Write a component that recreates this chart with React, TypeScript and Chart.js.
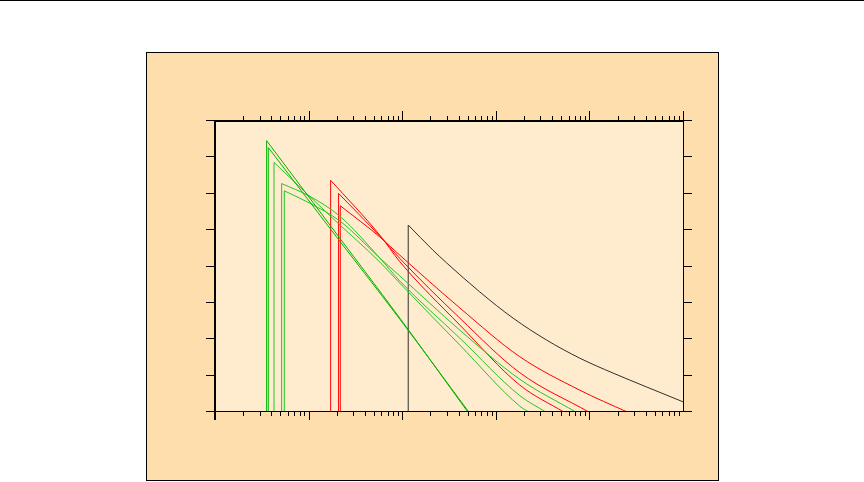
import React, { useEffect, useRef } from "react";
import { Chart, registerables } from "chart.js";

Chart.register(...registerables);

// ---- axis ranges & ticks ----
const X_MIN = 1;
const X_MAX = 100000;
const Y_MIN = 0;
const Y_MAX = 8;
const xMajorTicks = [1, 10, 100, 1000, 10000, 100000];
const xMinorMultipliers = [2, 3, 4, 5, 6, 7, 8, 9];
const yTicks = [0, 1, 2, 3, 4, 5, 6, 7, 8];

// ---- series (x on log axis, y linear); first point = foot of the vertical edge ----
const g1X = [3.56, 3.56, 16.9, 94.4, 502];
const g1Y = [0, 7.46, 5.14, 2.58, 0];

const g2X = [3.71, 3.71, 16.9, 94.4, 515];
const g2Y = [0, 7.27, 5.05, 2.55, 0];

const g3X = [4.27, 4.27, 19.1, 57.8, 94.4, 413, 1805, 2253];
const g3Y = [0, 6.86, 5.27, 4.12, 3.54, 1.84, 0.16, 0];

const g4X = [5.15, 5.15, 10.3, 21.6, 57.8, 94.4, 413, 1805, 3420];
const g4Y = [0, 6.28, 5.93, 5.38, 4.23, 3.6, 2.03, 0.45, 0];

const g5X = [5.5, 5.5, 10.3, 21.6, 57.8, 94.4, 413, 1805, 7150];
const g5Y = [0, 6.08, 5.74, 5.25, 4.23, 3.74, 2.25, 0.9, 0];

const r1X = [17.2, 17.2, 57.8, 94.4, 413, 1805, 5325];
const r1Y = [0, 6.37, 4.86, 4.13, 2.39, 0.74, 0];

const r2X = [20.9, 20.9, 57.8, 94.4, 413, 1805, 9840];
const r2Y = [0, 6.01, 4.83, 4.22, 2.58, 1.08, 0];

const r3X = [21.8, 21.8, 57.8, 94.4, 413, 1805, 7890, 25370];
const r3Y = [0, 5.67, 4.81, 4.31, 2.86, 1.52, 0.6, 0];

const kX = [116, 116, 213, 298, 675, 1531, 3480, 7890, 17900, 40650, 100000];
const kY = [0, 5.14, 4.45, 4.1, 3.3, 2.58, 1.98, 1.48, 1.07, 0.69, 0.28];

const seriesList = [
  { name: "g1", xs: g1X, ys: g1Y, color: "#00b400" },
  { name: "g2", xs: g2X, ys: g2Y, color: "#00b400" },
  { name: "g3", xs: g3X, ys: g3Y, color: "#22c822" },
  { name: "g4", xs: g4X, ys: g4Y, color: "#22c822" },
  { name: "g5", xs: g5X, ys: g5Y, color: "#22c822" },
  { name: "r1", xs: r1X, ys: r1Y, color: "#ff0000" },
  { name: "r2", xs: r2X, ys: r2Y, color: "#ff0000" },
  { name: "r3", xs: r3X, ys: r3Y, color: "#ff0000" },
  { name: "k", xs: kX, ys: kY, color: "#303030" },
];

const framePlugin = {
  id: "frame",
  beforeDraw(chart: any) {
    const ctx = chart.ctx;
    const { left, right, top, bottom } = chart.chartArea;
    ctx.save();
    ctx.fillStyle = "#ffffff";
    ctx.fillRect(0, 0, chart.width, chart.height);
    ctx.fillStyle = "#000000";
    ctx.fillRect(0, 0, chart.width, 1);
    // outer panel
    ctx.fillStyle = "#ffdead";
    ctx.fillRect(146, 52, 572, 428);
    ctx.strokeStyle = "#000000";
    ctx.lineWidth = 1;
    ctx.strokeRect(146.5, 52.5, 572, 428);
    // plot area
    ctx.fillStyle = "#ffebcd";
    ctx.fillRect(left, top, right - left, bottom - top);
    ctx.restore();
  },
  afterDatasetsDraw(chart: any) {
    const ctx = chart.ctx;
    const { left, right, top, bottom } = chart.chartArea;
    const xs = chart.scales.x;
    const ys = chart.scales.y;
    ctx.save();
    ctx.fillStyle = "#000000";
    // frame lines
    ctx.fillRect(left - 1, top - 1, right - left + 1, 2); // top (thick)
    ctx.fillRect(left - 1, top - 1, 2, bottom - top + 9); // left (thick)
    ctx.fillRect(left - 9, bottom - 1, right - left + 10, 1); // bottom
    ctx.fillRect(right, top - 10, 1, bottom - top + 10); // right
    // x ticks
    const drawX = (v: number, major: boolean) => {
      const px = Math.round(xs.getPixelForValue(v));
      const len = major ? 9 : 4;
      if (px <= left || px >= right) return;
      ctx.fillRect(px, top - 1 - len, 1, len);
      ctx.fillRect(px, bottom, 1, major ? 8 : 4);
    };
    for (let i = 0; i < xMajorTicks.length; i++) {
      const d = xMajorTicks[i];
      drawX(d, true);
      if (i < xMajorTicks.length - 1) {
        for (const m of xMinorMultipliers) drawX(d * m, false);
      }
    }
    // y ticks
    for (const t of yTicks) {
      const py = Math.floor(ys.getPixelForValue(t) - 0.5);
      ctx.fillRect(left - 9, py, 8, 1);
      ctx.fillRect(right + 1, py, 8, 1);
    }
    ctx.restore();
  },
};

export default function App() {
  const ref = useRef<HTMLCanvasElement | null>(null);
  useEffect(() => {
    if (!ref.current) return;
    const datasets: any[] = [];
    seriesList.forEach((s) => {
      const pts = s.xs.map((x, i) => ({ x, y: s.ys[i] }));
      // vertical rising edge
      datasets.push({
        label: s.name + "-edge",
        data: pts.slice(0, 2),
        borderColor: s.color,
        backgroundColor: s.color,
        borderWidth: 1,
        showLine: true,
        pointRadius: 0,
        tension: 0,
        fill: false,
      });
      // decaying branch
      datasets.push({
        label: s.name,
        data: pts.slice(1),
        borderColor: s.color,
        backgroundColor: s.color,
        borderWidth: 1,
        showLine: true,
        pointRadius: 0,
        cubicInterpolationMode: "monotone",
        fill: false,
      });
    });
    const chart = new Chart(ref.current, {
      type: "scatter",
      data: { datasets },
      options: {
        responsive: false,
        animation: false,
        layout: { padding: { left: 215, right: 181, top: 121, bottom: 70 } },
        plugins: { legend: { display: false }, tooltip: { enabled: false } },
        scales: {
          x: { type: "logarithmic", min: X_MIN, max: X_MAX, display: false },
          y: { type: "linear", min: Y_MIN, max: Y_MAX, display: false },
        },
      },
      plugins: [framePlugin],
    } as any);
    return () => chart.destroy();
  }, []);
  return (
    <canvas
      ref={ref}
      width={864}
      height={482}
      style={{ position: "fixed", left: 0, top: 0, width: 864, height: 482 }}
    />
  );
}
